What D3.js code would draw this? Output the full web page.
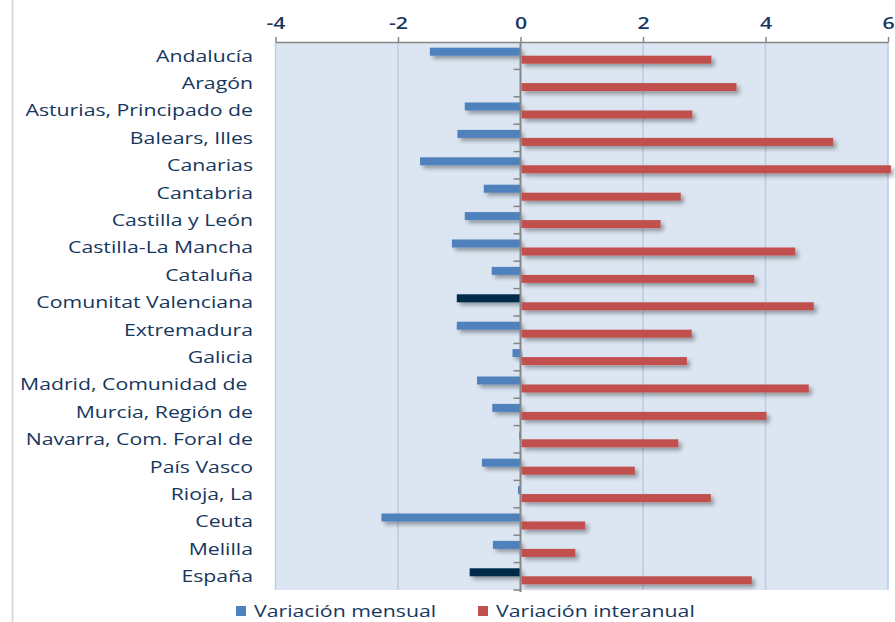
<!DOCTYPE html>
<html>
<head>
<meta charset="utf-8">
<script src="https://cdn.jsdelivr.net/npm/d3@7"></script>
<style>
  body { margin: 0; background: #fff; }
  text { font-family: "Open Sans", sans-serif; fill: #17375E; }
  .cat-label { white-space: pre; }
</style>
</head>
<body>
<div id="chart"></div>
<script>
/* data */
const regions = ["Andalucía", "Aragón", "Asturias, Principado de", "Balears, Illes", "Canarias",
    "Cantabria", "Castilla y León", "Castilla-La Mancha", "Cataluña", "Comunitat Valenciana",
    "Extremadura", "Galicia", "Madrid, Comunidad de ", "Murcia, Región de", "Navarra, Com. Foral de",
    "País Vasco", "Rioja, La", "Ceuta", "Melilla", "España"];
const mensual = [-1.48, 0, -0.91, -1.03, -1.64, -0.60, -0.91, -1.12, -0.47, -1.04,
    -1.04, -0.13, -0.71, -0.46, -0.02, -0.63, -0.04, -2.27, -0.45, -0.83];
const interanual = [3.10, 3.51, 2.79, 5.09, 6.03, 2.60, 2.27, 4.47, 3.80, 4.77,
    2.78, 2.70, 4.69, 4.00, 2.56, 1.85, 3.09, 1.04, 0.88, 3.76];
const highlighted = ["Comunitat Valenciana", "España"];
const xTicks = [-4, -2, 0, 2, 4, 6];
const legendItems = ["Variación mensual", "Variación interanual"];

/* svg size */
const width = 895;
const height = 622;
const plot = { left: 275.5, right: 888, top: 42, bottom: 590 };
const stretch = 1.25; // text in the picture is drawn wide

const x = d3.scaleLinear()
    .domain([-4, 6])
    .range([plot.left, plot.right]);

const y = d3.scaleBand()
    .domain(regions)
    .range([plot.top, plot.bottom]);

const barH = 8;

let svg = d3.select("#chart").append("svg")
    .attr("width", width)
    .attr("height", height);

/* shadow for bars */
let filter = svg.append("defs").append("filter")
    .attr("id", "shadow")
    .attr("x", "-10%").attr("y", "-50%")
    .attr("width", "130%").attr("height", "250%");
filter.append("feDropShadow")
    .attr("dx", 3).attr("dy", 3)
    .attr("stdDeviation", 2)
    .attr("flood-color", "#000")
    .attr("flood-opacity", 0.35);

/* outer frame line */
svg.append("line")
    .attr("x1", 12.5).attr("x2", 12.5)
    .attr("y1", 0).attr("y2", height)
    .attr("stroke", "#D9D9D9")
    .attr("stroke-width", 2);

/* plot background */
svg.append("rect")
    .attr("x", plot.left).attr("y", plot.top)
    .attr("width", plot.right - plot.left)
    .attr("height", plot.bottom - plot.top)
    .attr("fill", "#DCE6F2");

/* grid lines */
svg.selectAll(".grid")
    .data(xTicks.filter(d => d !== 0))
    .enter().append("line")
    .attr("class", "grid")
    .attr("x1", d => x(d)).attr("x2", d => x(d))
    .attr("y1", plot.top).attr("y2", plot.bottom)
    .attr("stroke", "#B9CDE5")
    .attr("stroke-width", 1.5);

/* top axis */
const xAxis = d3.axisTop(x)
    .tickValues(xTicks)
    .tickFormat(d => String(d))
    .tickSize(5)
    .tickSizeOuter(0)
    .tickPadding(8);

let xAxisG = svg.append("g")
    .attr("transform", `translate(0,${plot.top})`)
    .call(xAxis);
xAxisG.select(".domain").attr("stroke", "#868686").attr("stroke-width", 1.5);
xAxisG.selectAll(".tick line").attr("stroke", "#868686").attr("stroke-width", 1.5);
xAxisG.selectAll(".tick text")
    .attr("fill", "#17375E")
    .attr("transform", `translate(0,-13) scale(${stretch},1) translate(0,13)`)
    .style("font-size", "17px")
    .style("font-weight", 600)
    .style("font-family", "'Open Sans', sans-serif");

/* bars */
svg.selectAll(".bar-m")
    .data(regions)
    .enter().append("rect")
    .attr("class", "bar-m")
    .attr("x", (d, i) => x(Math.min(0, mensual[i])))
    .attr("y", d => y(d) + y.bandwidth() / 2 - barH)
    .attr("width", (d, i) => Math.abs(x(mensual[i]) - x(0)))
    .attr("height", barH)
    .attr("fill", d => highlighted.includes(d) ? "#04294A" : "#4F81BD")
    .attr("filter", "url(#shadow)");

svg.selectAll(".bar-i")
    .data(regions)
    .enter().append("rect")
    .attr("class", "bar-i")
    .attr("x", x(0) + 1)
    .attr("y", d => y(d) + y.bandwidth() / 2)
    .attr("width", (d, i) => x(interanual[i]) - x(0))
    .attr("height", barH)
    .attr("fill", "#C0504D")
    .attr("filter", "url(#shadow)");

/* zero axis with category ticks */
let zeroG = svg.append("g")
    .attr("transform", `translate(${x(0)},0)`);
zeroG.append("line")
    .attr("y1", plot.top).attr("y2", plot.bottom + 2)
    .attr("stroke", "#868686")
    .attr("stroke-width", 2);
zeroG.selectAll(".cat-tick")
    .data(regions)
    .enter().append("line")
    .attr("class", "cat-tick")
    .attr("x1", -7).attr("x2", 0)
    .attr("y1", d => y(d) + y.step())
    .attr("y2", d => y(d) + y.step())
    .attr("stroke", "#868686")
    .attr("stroke-width", 1.5);

/* category labels */
svg.selectAll(".cat-label")
    .data(regions)
    .enter().append("text")
    .attr("class", "cat-label")
    .attr("transform", d => `translate(253,${y(d) + y.bandwidth() / 2}) scale(${stretch},1)`)
    .attr("dy", "0.35em")
    .attr("text-anchor", "end")
    .style("font-size", "17px")
    .text(d => d);

/* legend */
const legendColors = ["#4F81BD", "#C0504D"];
const legendX = [236, 478];
let legend = svg.selectAll(".legend")
    .data(legendItems)
    .enter().append("g")
    .attr("class", "legend")
    .attr("transform", (d, i) => `translate(${legendX[i]},606)`);
legend.append("rect")
    .attr("width", 10).attr("height", 10)
    .attr("fill", (d, i) => legendColors[i]);
legend.append("text")
    .attr("transform", `translate(18,5) scale(${stretch},1)`)
    .attr("dy", "0.35em")
    .style("font-size", "17px")
    .text(d => d);
</script>
</body>
</html>
